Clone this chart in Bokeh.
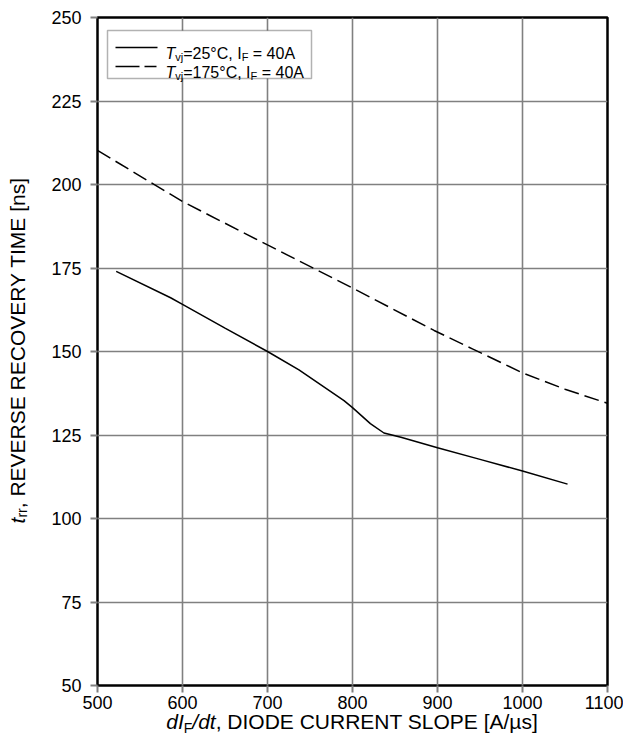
from bokeh.plotting import figure
from bokeh.models import Range1d, Label, BoxAnnotation, Arrow, FixedTicker, Div
from bokeh.layouts import row, column
from bokeh.embed import file_html
from bokeh.resources import INLINE

# ---- data ----
x_25 = [522, 586, 600, 650, 700, 737, 790, 800, 821, 837, 857, 900, 950, 1000, 1053]
y_25 = [174.0, 166.1, 164.1, 157.0, 150.0, 144.5, 135.3, 133.2, 128.4, 125.6, 124.3, 121.2, 117.7, 114.2, 110.3]
x_175 = [500, 600, 700, 800, 896, 941, 1000, 1050, 1100]
y_175 = [210.2, 194.9, 181.9, 169.0, 156.3, 150.8, 143.6, 138.7, 134.5]
x_ticks = [500, 600, 700, 800, 900, 1000, 1100]
y_ticks = [50, 75, 100, 125, 150, 175, 200, 225, 250]

FONT = "Liberation Sans"
FW, FH = 510, 668
X0, X1, Y0, Y1 = 500, 1100, 50, 250
YDIV_W = 40
LEFT_B, TOP_B, RIGHT_B, BOT_B = 97 - YDIV_W, 17, 16, 26

p = figure(output_backend="svg", toolbar_location=None,
           frame_width=FW, frame_height=FH,
           min_border_left=LEFT_B, min_border_top=TOP_B, min_border_right=RIGHT_B, min_border_bottom=BOT_B,
           x_range=Range1d(X0, X1), y_range=Range1d(Y0, Y1))
p.background_fill_color = "white"
p.border_fill_color = "white"
p.outline_line_color = "black"
p.outline_line_width = 2.5

p.xaxis.ticker = FixedTicker(ticks=x_ticks)
p.yaxis.ticker = FixedTicker(ticks=y_ticks)
for ax in (p.xaxis, p.yaxis):
    ax.axis_line_color = None
    ax.major_tick_line_color = "#808080"
    ax.major_tick_line_width = 2
    ax.major_tick_out = 7
    ax.major_tick_in = 0
    ax.minor_tick_line_color = None
    ax.major_label_text_font = FONT
    ax.major_label_text_font_size = "18px"
    ax.major_label_text_color = "black"
p.xaxis.major_label_standoff = 3
p.yaxis.major_label_standoff = 9
p.grid.grid_line_color = "#808080"
p.grid.grid_line_width = 1.6

p.line(x_25, y_25, line_color="black", line_width=1.5)
p.line(x_175, y_175, line_color="black", line_width=1.5, line_dash="15 6")

W = {' ': 278, ',': 278, '/': 278, '=': 584, '°': 400, '[': 278, ']': 278, 'A': 667, 'C': 722,
     'D': 722, 'E': 667, 'F': 611, 'I': 278, 'L': 556, 'M': 833, 'N': 722, 'O': 778, 'P': 667,
     'R': 722, 'S': 667, 'T': 611, 'U': 722, 'V': 667, 'Y': 667, 'd': 556, 'j': 222, 'n': 556,
     'r': 333, 's': 500, 't': 278, 'v': 500, 'µ': 576}


def tw(s, size):
    return sum(W.get(c, 556) for c in s) * size / 1000.0


def dx(px):
    return X0 + px * (X1 - X0) / FW


def dy(py):
    return Y1 - py * (Y1 - Y0) / FH


def hrun(pieces, x_start, base):
    x = x_start
    for text, size, style, shift in pieces:
        stripped = text.lstrip(" ")
        lead = tw(text[:len(text) - len(stripped)], size)
        p.add_layout(Label(x=dx(x + lead), y=dy(base + shift), text=stripped, text_font=FONT,
                           text_font_size=f"{size}px", text_font_style=style,
                           text_align="left", text_baseline="alphabetic", text_color="black"))
        x += tw(text, size)


# ---- legend ----
p.add_layout(BoxAnnotation(left=dx(10), right=dx(214), top=dy(13), bottom=dy(61),
                           fill_color="white", fill_alpha=1.0, line_color="black", line_width=1.5))
p.add_layout(Arrow(x_start=dx(18), y_start=dy(30), x_end=dx(60), y_end=dy(30), start=None, end=None,
                   line_color="black", line_width=1.5))
p.add_layout(Arrow(x_start=dx(18), y_start=dy(49), x_end=dx(60), y_end=dy(49), start=None, end=None,
                   line_color="black", line_width=1.5, line_dash="24 5 12 5"))
LS, SS = 16, 11
hrun([("T", LS, "italic", 0), ("vj", SS, "normal", 3), ("=25°C, I", LS, "normal", 0),
      ("F", SS, "normal", 3), (" = 40A", LS, "normal", 0)], 68, 36)
hrun([("T", LS, "italic", 0), ("vj", SS, "normal", 3), ("=175°C, I", LS, "normal", 0),
      ("F", SS, "normal", 3), (" = 40A", LS, "normal", 0)], 68, 55)

# ---- axis titles (rich text) ----
TXT = f"font-family:'{FONT}'; font-size:21px; color:black; white-space:nowrap; line-height:21px;"
SUB = "font-size:14px; vertical-align:-4px;"
y_html = (f"<div style=\"width:{YDIV_W}px; height:{FH}px; margin-top:{TOP_B}px; display:flex; "
          f"align-items:center; justify-content:center;\">"
          f"<span style=\"writing-mode:vertical-rl; transform:rotate(180deg); {TXT}\">"
          f"<i>t</i><span style=\"{SUB}\">rr</span>, REVERSE RECOVERY TIME [ns]</span></div>")
x_html = (f"<div style=\"width:{FW}px; margin-left:{LEFT_B}px; text-align:center; {TXT}\">"
          f"<i>dI</i><span style=\"{SUB}\">F</span><i>/dt</i>, DIODE CURRENT SLOPE [A/µs]</div>")

P_H = TOP_B + FH + BOT_B
P_W = LEFT_B + FW + RIGHT_B
ydiv = Div(text=y_html, width=YDIV_W, height=P_H, margin=0)
xdiv = Div(text=x_html, width=P_W, height=745 - P_H, margin=0)
layout = row(ydiv, column(p, xdiv, spacing=0), spacing=0)

open("out.html", "w").write(file_html(layout, INLINE))
